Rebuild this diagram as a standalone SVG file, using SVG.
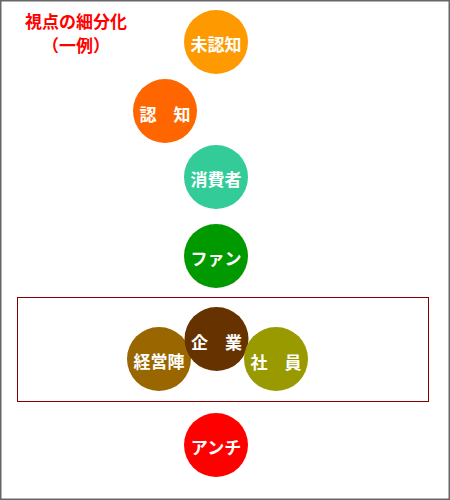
<svg xmlns="http://www.w3.org/2000/svg" width="450" height="500" viewBox="0 0 450 500">
<style>
.lbl{font-family:"Noto Sans CJK JP","Liberation Sans",sans-serif;font-weight:bold;font-size:17px;fill:#fff;text-anchor:middle;dominant-baseline:central}
.ttl{font-family:"Noto Sans CJK JP","Liberation Sans",sans-serif;font-weight:bold;font-size:17px;fill:#ff0000;text-anchor:middle;dominant-baseline:central}
</style>
<rect x="0.75" y="0.75" width="448.5" height="498.5" fill="#fff" stroke="#666" stroke-width="1.5"/>
<g id="title">
<text class="ttl" x="76" y="20">視点の細分化</text>
<text class="ttl" x="76" y="44">（一例）</text>
</g>
<g id="connectors"></g>
<g id="company-box"><rect x="17.5" y="297.5" width="411" height="104" fill="none" stroke="#800000" stroke-width="1"/></g>
<g id="mininchi"><circle cx="216" cy="42" r="32" fill="#ff9900"/><text class="lbl" x="216" y="43">未認知</text></g>
<g id="ninchi"><circle cx="165" cy="111" r="32" fill="#ff6600"/><text class="lbl" x="165" y="113">認　知</text></g>
<g id="shohisha"><circle cx="216" cy="177" r="32" fill="#33cc99"/><text class="lbl" x="216" y="178">消費者</text></g>
<g id="fan"><circle cx="216" cy="256" r="32" fill="#009900"/><text class="lbl" x="216" y="257">ファン</text></g>
<g id="keieijin"><circle cx="159" cy="359" r="32" fill="#996600"/><text class="lbl" x="159" y="360">経営陣</text></g>
<g id="kigyo"><circle cx="216.5" cy="339" r="32" fill="#663300"/><text class="lbl" x="216.5" y="341">企　業</text></g>
<g id="shain"><circle cx="276" cy="359" r="32" fill="#999900"/><text class="lbl" x="276" y="361">社　員</text></g>
<g id="anchi"><circle cx="216" cy="445" r="32" fill="#ff0000"/><text class="lbl" x="216" y="446">アンチ</text></g>
</svg>
